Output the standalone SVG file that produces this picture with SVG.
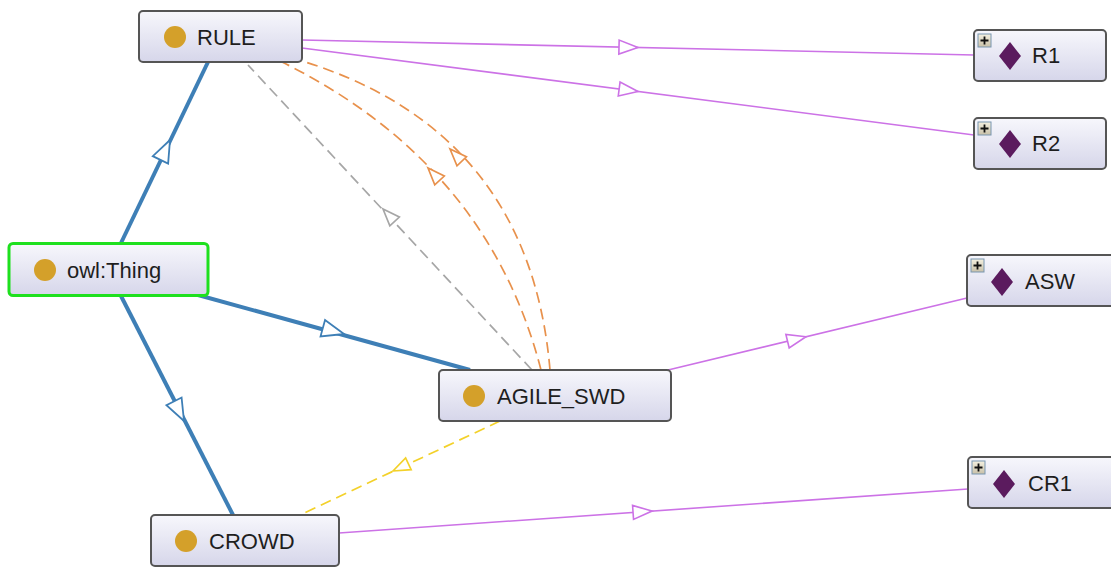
<svg xmlns="http://www.w3.org/2000/svg" width="1111" height="567" viewBox="0 0 1111 567">
<defs>
<linearGradient id="ng" x1="0" y1="0" x2="0" y2="1">
<stop offset="0" stop-color="#f7f7fc"/>
<stop offset="1" stop-color="#d6d6ea"/>
</linearGradient>
<linearGradient id="pg" x1="0" y1="0" x2="0" y2="1">
<stop offset="0" stop-color="#f4f0e0"/>
<stop offset="1" stop-color="#c8c0a8"/>
</linearGradient>
<path id="tri" d="M0,0 L-19,-7 L-19,7 Z"/>
<path id="trib" d="M0,0 L-22,-8.5 L-22,8.5 Z"/>
<path id="tris" d="M0,0 L-17,-6.5 L-17,6.5 Z"/>
<path id="dia" d="M0,-14 L11,0 L0,14 L-11,0 Z"/>
</defs>
<style>
.node{fill:url(#ng);stroke:#555;stroke-width:2}
.lbl{font-family:"Liberation Sans",Arial,sans-serif;font-size:22px;fill:#1e1e1e}
.dot{fill:#d4a02a}
.dia{fill:#5b1b5e}
.plus{fill:url(#pg);stroke:#7896b0;stroke-width:1}
.pl{stroke:#111;stroke-width:1.8}
.blue{stroke:#3e7fb6;stroke-width:4;fill:none}
.purple{stroke:#cc72e6;stroke-width:1.6;fill:none}
.gray{stroke:#a6a6a6;stroke-width:1.7;fill:none;stroke-dasharray:11,6}
.orange{stroke:#e8914c;stroke-width:1.7;fill:none;stroke-dasharray:11,6}
.yellow{stroke:#f3d12a;stroke-width:1.7;fill:none;stroke-dasharray:11,6}
.ab{fill:#fff;stroke:#3e7fb6;stroke-width:1.8}
.ap{fill:#fff;stroke:#cc72e6;stroke-width:1.6}
.ag{fill:#fff;stroke:#a6a6a6;stroke-width:1.7}
.ao{fill:#fff;stroke:#e8914c;stroke-width:1.7}
.ay{fill:#fff;stroke:#f3d12a;stroke-width:1.7}
</style>
<rect width="1111" height="567" fill="#fff"/>
<g id="connectors">
<line class="purple" x1="302" y1="40" x2="974" y2="55"/>
<use href="#tri" class="ap" transform="translate(638,47.5) rotate(1.3)"/>
<line class="purple" x1="302" y1="48" x2="974" y2="135"/>
<use href="#tri" class="ap" transform="translate(638,91.5) rotate(7.4)"/>
<line class="purple" x1="668" y1="370" x2="967" y2="298"/>
<use href="#tri" class="ap" transform="translate(806,336.7) rotate(-13.6)"/>
<line class="purple" x1="339" y1="533" x2="968" y2="489"/>
<use href="#tri" class="ap" transform="translate(652,511.1) rotate(-4)"/>
<line class="gray" x1="532" y1="370" x2="248" y2="65"/>
<use href="#tris" class="ag" transform="translate(383,209) rotate(-133)"/>
<path class="orange" d="M541,370 Q488,164 282,62"/>
<use href="#tris" class="ao" transform="translate(428,168) rotate(-132.7)"/>
<path class="orange" d="M550,370 Q529,126 292,58"/>
<use href="#tris" class="ao" transform="translate(450,149) rotate(-133.5)"/>
<line class="yellow" x1="500" y1="421" x2="300" y2="515"/>
<use href="#tris" class="ay" transform="translate(393,471) rotate(154.8)"/>
<line class="blue" x1="121" y1="243" x2="208" y2="62"/>
<use href="#trib" class="ab" transform="translate(170,140) rotate(-64.3)"/>
<line class="blue" x1="198" y1="295" x2="470" y2="370"/>
<use href="#trib" class="ab" transform="translate(344,334) rotate(15.4)"/>
<line class="blue" x1="121" y1="296" x2="233" y2="515"/>
<use href="#trib" class="ab" transform="translate(184,421) rotate(63)"/>
</g>
<g id="RULE">
<rect class="node" x="139" y="11" width="163" height="51" rx="4"/>
<circle class="dot" cx="175" cy="37" r="11"/>
<text class="lbl" x="197" y="45">RULE</text>
</g>
<g id="owlThing">
<rect class="node" x="9" y="243.5" width="199" height="52" rx="4" style="stroke:#1ee01e;stroke-width:3"/>
<circle class="dot" cx="45" cy="270" r="11"/>
<text class="lbl" x="67" y="278">owl:Thing</text>
</g>
<g id="AGILE_SWD">
<rect class="node" x="439" y="370" width="232" height="51" rx="4"/>
<circle class="dot" cx="474" cy="396" r="11"/>
<text class="lbl" x="497" y="404">AGILE_SWD</text>
</g>
<g id="CROWD">
<rect class="node" x="151" y="515" width="188" height="51" rx="4"/>
<circle class="dot" cx="186" cy="541" r="11"/>
<text class="lbl" x="209" y="549">CROWD</text>
</g>
<g id="R1">
<rect class="node" x="974" y="30" width="132" height="51" rx="4"/>
<rect class="plus" x="978" y="34" width="13" height="13"/>
<path class="pl" d="M980.5,40.5 H988.5 M984.5,36.5 V44.5"/>
<use href="#dia" class="dia" transform="translate(1010,56)"/>
<text class="lbl" x="1032" y="63">R1</text>
</g>
<g id="R2">
<rect class="node" x="974" y="118" width="132" height="51" rx="4"/>
<rect class="plus" x="978" y="122" width="13" height="13"/>
<path class="pl" d="M980.5,128.5 H988.5 M984.5,124.5 V132.5"/>
<use href="#dia" class="dia" transform="translate(1010,144)"/>
<text class="lbl" x="1032" y="151">R2</text>
</g>
<g id="ASW">
<rect class="node" x="967" y="255" width="150" height="51" rx="4"/>
<rect class="plus" x="971" y="259" width="13" height="13"/>
<path class="pl" d="M973.5,265.5 H981.5 M977.5,261.5 V269.5"/>
<use href="#dia" class="dia" transform="translate(1002,282)"/>
<text class="lbl" x="1025" y="289">ASW</text>
</g>
<g id="CR1">
<rect class="node" x="968" y="457" width="150" height="51" rx="4"/>
<rect class="plus" x="972" y="461" width="13" height="13"/>
<path class="pl" d="M974.5,467.5 H982.5 M978.5,463.5 V471.5"/>
<use href="#dia" class="dia" transform="translate(1004,484)"/>
<text class="lbl" x="1028" y="491">CR1</text>
</g>
</svg>
